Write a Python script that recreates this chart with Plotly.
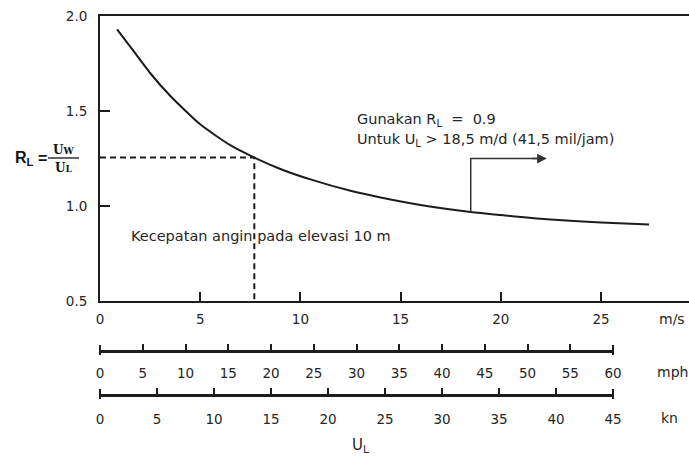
import plotly.graph_objects as go

# ---- data ----
u_ms = [0.85, 1.5, 2.5, 3.5, 5.0, 6.5, 7.7, 9.0, 10.5, 12.5, 14.0, 16.3, 18.5, 20.0, 22.3, 25.0, 27.4]
r_l = [1.93, 1.84, 1.70, 1.58, 1.43, 1.32, 1.255, 1.195, 1.14, 1.08, 1.045, 1.0, 0.968, 0.952, 0.93, 0.913, 0.903]

ms_ticks = [0, 5, 10, 15, 20, 25]
mph_ticks = [0, 5, 10, 15, 20, 25, 30, 35, 40, 45, 50, 55, 60]
kn_ticks = [0, 5, 10, 15, 20, 25, 30, 35, 40, 45]
r_ticks = [0.5, 1.0, 1.5, 2.0]
r_ticktext = ["0.5", "1.0", "1.5", "2.0"]

# reference point (dashed guide)
u_ref = 7.7
r_ref = 1.255
# arrow for R_L = 0.9 region
u_arrow = 18.5
r_arrow_start = 0.968
r_arrow_top = 1.25
u_arrow_end = 22.3

# ---- layout geometry (pixels) ----
W, H = 689, 456
ML, MT, MB, MR = 100, 16, 0, 0
PW, PH = W - ML - MR, H - MT - MB
X_AXIS_PX = 301
MPH_PX = 351
KN_PX = 395
SCALE_END_PX = 613

def xp(px):
    return (px - ML) / PW

def yp(py):
    return (H - MB - py) / PH

INK = "#1c1c1c"
TXT = "#262626"
FONT = "DejaVu Sans"
FS = 13.5
NOTE_FS = 14.5

fig = go.Figure()

# main curve
fig.add_trace(go.Scatter(x=u_ms, y=r_l, mode="lines",
                         line=dict(color=INK, width=2, shape="spline", smoothing=0.6),
                         hoverinfo="skip", showlegend=False))
# dashed guide
fig.add_trace(go.Scatter(x=[0, u_ref, u_ref], y=[r_ref, r_ref, 0.5], mode="lines",
                         line=dict(color=INK, width=2, dash="6px,4px"),
                         hoverinfo="skip", showlegend=False))
# arrow stem
fig.add_trace(go.Scatter(x=[u_arrow, u_arrow, u_arrow_end - 0.3], y=[r_arrow_start, r_arrow_top, r_arrow_top],
                         mode="lines", line=dict(color="#333", width=1.5),
                         hoverinfo="skip", showlegend=False))
fig.add_annotation(x=u_arrow_end, y=r_arrow_top, ax=u_arrow_end - 0.8, ay=r_arrow_top,
                   xref="x", yref="y", axref="x", ayref="y", text="",
                   showarrow=True, arrowhead=2, arrowsize=1.3, arrowwidth=1.5, arrowcolor="#333")

# invisible traces to activate the secondary scales
fig.add_trace(go.Scatter(x=[mph_ticks[0], mph_ticks[-1]], y=[None, None], xaxis="x2", yaxis="y",
                         mode="lines", showlegend=False, hoverinfo="skip"))
fig.add_trace(go.Scatter(x=[kn_ticks[0], kn_ticks[-1]], y=[None, None], xaxis="x3", yaxis="y",
                         mode="lines", showlegend=False, hoverinfo="skip"))

ms_range_max = PW / ((601 - ML) / ms_ticks[-1])
scale_dom = xp(SCALE_END_PX)

common_tick = dict(tickfont=dict(family=FONT, size=FS, color=TXT), showgrid=False, zeroline=False,
                   automargin=False, fixedrange=True)

fig.update_layout(
    width=W, height=H,
    margin=dict(l=ML, r=MR, t=MT, b=MB, pad=0),
    paper_bgcolor="white", plot_bgcolor="rgba(0,0,0,0)",
    showlegend=False,
    xaxis=dict(range=[0, ms_range_max], domain=[0, 1], anchor="y",
               tickmode="array", tickvals=ms_ticks, ticktext=[str(t) for t in ms_ticks],
               ticks="inside", ticklen=9, tickwidth=2, tickcolor=INK,
               showline=True, linecolor=INK, linewidth=2, mirror=True,
               ticklabelstandoff=5, **common_tick),
    yaxis=dict(range=[0.5, 2.0], domain=[yp(X_AXIS_PX), 1], anchor="x",
               tickmode="array", tickvals=r_ticks, ticktext=r_ticktext,
               ticks="inside", ticklen=10, tickwidth=2, tickcolor=INK,
               showline=True, linecolor=INK, linewidth=2,
               ticklabelstandoff=8, **common_tick),
    xaxis2=dict(range=[mph_ticks[0], mph_ticks[-1]], domain=[0, scale_dom], anchor="free",
                position=yp(MPH_PX),
                tickmode="array", tickvals=mph_ticks, ticktext=[str(t) for t in mph_ticks],
                ticks="inside", ticklen=6, tickwidth=2, tickcolor=INK,
                showline=True, linecolor=INK, linewidth=2.5,
                ticklabelstandoff=9, **common_tick),
    xaxis3=dict(range=[kn_ticks[0], kn_ticks[-1]], domain=[0, scale_dom], anchor="free",
                position=yp(KN_PX),
                tickmode="array", tickvals=kn_ticks, ticktext=[str(t) for t in kn_ticks],
                ticks="inside", ticklen=6, tickwidth=2, tickcolor=INK,
                showline=True, linecolor=INK, linewidth=2.5,
                ticklabelstandoff=11, **common_tick),
)

# end caps of the two lower scales (extend below the line)
for pos_px in (MPH_PX, KN_PX):
    for xpx in (ML, SCALE_END_PX):
        fig.add_shape(type="line", xref="paper", yref="paper",
                      x0=xp(xpx), x1=xp(xpx), y0=yp(pos_px - 6), y1=yp(pos_px + 4),
                      line=dict(color=INK, width=2))

def txt(text, x_px, y_px, xanchor="center", size=FS, family=FONT, color=TXT):
    fig.add_annotation(text=text, x=xp(x_px), y=yp(y_px), xref="paper", yref="paper",
                       xanchor=xanchor, yanchor="middle", showarrow=False,
                       font=dict(family=family, size=size, color=color))

# unit labels
txt("m/s", 672, 319, size=14)
txt("mph", 672, 372, size=14)
txt("kn", 669, 418, size=14)
txt("U<sub>L</sub>", 360, 445, size=15)

# in-chart notes
txt("Gunakan R<sub>L</sub>  =  0.9", 355, 120, xanchor="left", size=NOTE_FS)
txt("Untuk U<sub>L</sub> > 18,5 m/d (41,5 mil/jam)", 355, 140, xanchor="left", size=NOTE_FS)
txt("Kecepatan angin pada elevasi 10 m", 129, 236, xanchor="left", size=NOTE_FS)

# y-axis title: R_L = U_W / U_L
txt("<b>R<sub>L</sub></b>", 13, 158, xanchor="left", size=16, family="Liberation Sans", color="#111")
txt("<b>=</b>", 42, 158, size=16, family="Liberation Sans", color="#111")
txt("<b>U<span style='font-size:9px'>W</span></b>", 63, 150, size=12, family="DejaVu Serif", color="#111")
txt("<b>U<span style='font-size:9px'>L</span></b>", 63, 168, size=12, family="DejaVu Serif", color="#111")
fig.add_shape(type="line", xref="paper", yref="paper",
              x0=xp(48), x1=xp(79), y0=yp(158), y1=yp(158),
              line=dict(color="#111", width=1.3))

fig.write_html("out.html", config={"displayModeBar": False},
               post_script="document.body.style.margin='0px';document.body.style.overflow='hidden';")
